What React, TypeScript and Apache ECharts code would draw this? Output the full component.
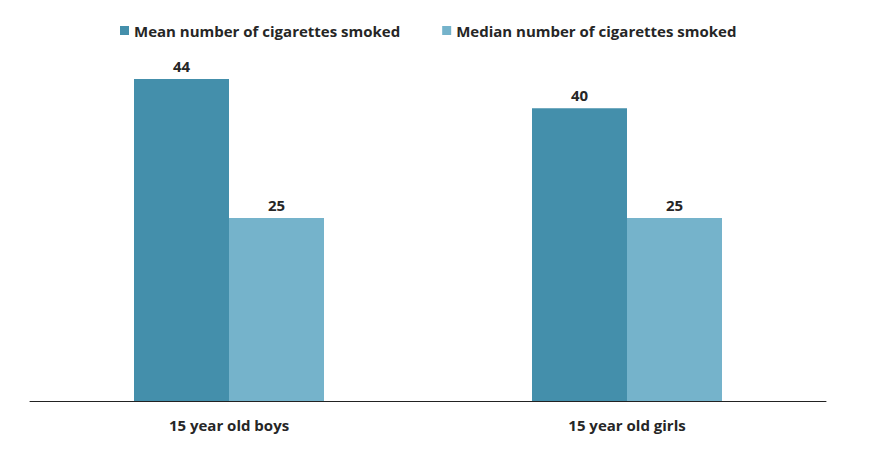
import React, { useEffect, useRef } from "react";
import * as echarts from "echarts";

const categories = ["15 year old boys", "15 year old girls"];
const seriesNames = ["Mean number of cigarettes smoked", "Median number of cigarettes smoked"];
const meanValues = [44, 40];
const medianValues = [25, 25];

const FONT = "'Open Sans', sans-serif";

export default function App() {
  const ref = useRef<HTMLDivElement>(null);
  useEffect(() => {
    if (!ref.current) return;
    const chart = echarts.init(ref.current, null, { renderer: "svg" });
    const labelStyle = {
      show: true,
      position: "top" as const,
      distance: 6,
      fontFamily: FONT,
      fontWeight: 700,
      fontSize: 15,
      color: "#262626",
    };
    chart.setOption({
      animation: false,
      legend: {
        top: 18,
        left: 115,
        itemWidth: 9,
        itemHeight: 9,
        itemGap: 42,
        icon: "rect",
        textStyle: { fontFamily: FONT, fontWeight: 700, fontSize: 15, color: "#262626" },
        data: seriesNames,
      },
      grid: { left: 30, right: 63, top: 79, bottom: 52 },
      xAxis: {
        type: "category",
        data: categories,
        axisLine: { lineStyle: { color: "#222", width: 1 } },
        axisTick: { show: false },
        axisLabel: { fontFamily: FONT, fontWeight: 700, fontSize: 15, color: "#262626", margin: 16 },
      },
      yAxis: {
        type: "value",
        min: 0,
        max: 44,
        show: false,
        splitLine: { show: false },
      },
      series: [
        {
          name: seriesNames[0],
          type: "bar",
          data: meanValues,
          barWidth: 95,
          barGap: "0%",
          itemStyle: { color: "#448FAB" },
          label: labelStyle,
        },
        {
          name: seriesNames[1],
          type: "bar",
          data: medianValues,
          barWidth: 95,
          barGap: "0%",
          itemStyle: { color: "#75B3CB" },
          label: labelStyle,
        },
      ],
    });
    return () => chart.dispose();
  }, []);
  return <div ref={ref} style={{ width: 889, height: 453, margin: -8 }} />;
}
